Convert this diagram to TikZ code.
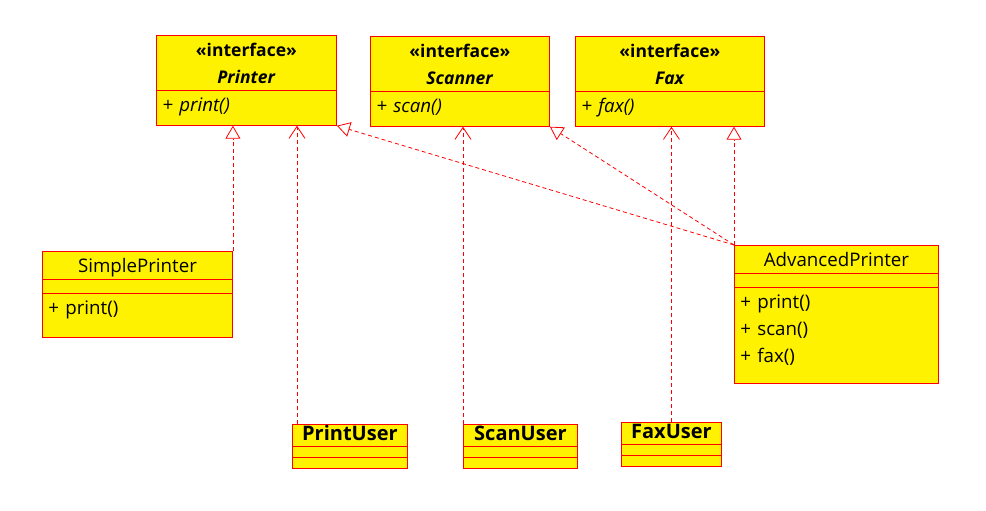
\documentclass[tikz,border=0pt]{standalone}
\usepackage{fontspec}
\setmainfont{Open Sans}
\usetikzlibrary{shapes.multipart, arrows.meta}

\newcommand{\rowstrut}{\rule[-6pt]{0pt}{27pt}}
\newcommand{\opstrut}{\rule[-13pt]{0pt}{34pt}}
\newcommand{\gapstrut}{\rule{0pt}{13pt}}
\newcommand{\userstrut}{\rule[-5pt]{0pt}{21pt}}
\newcommand{\usergap}{\rule{0pt}{10pt}}
\newcommand{\headfont}{\fontsize{17.5}{27}\selectfont}

\begin{document}
\begin{tikzpicture}[x=1pt, y=-1pt,
	every node/.style={font=\fontsize{18.7}{27}\selectfont},
	clas/.style={rectangle split, rectangle split parts=3, draw=red, fill=yellow, line width=0.9pt, inner xsep=6pt, inner ysep=0pt, anchor=north west},
	iface/.style={clas, rectangle split parts=2},
	user/.style={clas, font=\fontsize{20}{21}\selectfont\bfseries},
	realize/.style={red, line width=0.8pt, dash pattern=on 4pt off 3pt, -{Triangle[open, length=13pt, width=15pt, fill=white]}},
	uses/.style={red, line width=0.8pt, dash pattern=on 4pt off 3pt, -{Straight Barb[length=12pt, width=16pt]}}
	]
\useasboundingbox (0,0) rectangle (986,511);

% interfaces
\node[iface, text width=168pt] (printer) at (156,35) {\centering\headfont\textbf{«interface»}\rowstrut\\\textbf{\textit{Printer}}\rowstrut\par \nodepart{two}\raggedright\textit{+ print()}\opstrut};
\node[iface, text width=167pt] (scanner) at (370,36) {\centering\headfont\textbf{«interface»}\rowstrut\\\textbf{\textit{Scanner}}\rowstrut\par \nodepart{two}\raggedright\textit{+ scan()}\opstrut};
\node[iface, text width=177pt] (fax) at (575,36) {\centering\headfont\textbf{«interface»}\rowstrut\\\textbf{\textit{Fax}}\rowstrut\par \nodepart{two}\raggedright\textit{+ fax()}\opstrut};

% implementations
\node[clas, text width=178pt] (simplePrinter) at (42,251) {\centering SimplePrinter\rowstrut\par \nodepart{two}\gapstrut \nodepart{three}\raggedright+ print()\rule[-22pt]{0pt}{43pt}};
\node[clas, text width=192pt] (advancedPrinter) at (734,245) {\centering AdvancedPrinter\rowstrut\par \nodepart{two}\gapstrut \nodepart{three}\raggedright+ print()\rowstrut\\+ scan()\rowstrut\\+ fax()\rule[-20pt]{0pt}{41pt}};

% users
\node[user, text width=103pt] (printUser) at (292,424) {\centering PrintUser\userstrut\par \nodepart{two}\usergap \nodepart{three}\usergap};
\node[user, text width=102pt] (scanUser) at (463,424) {\centering ScanUser\userstrut\par \nodepart{two}\usergap \nodepart{three}\usergap};
\node[user, text width=88pt] (faxUser) at (621,422) {\centering FaxUser\userstrut\par \nodepart{two}\usergap \nodepart{three}\usergap};

\coordinate (pu) at ([xshift=5pt]printUser.north west);

\path[realize]
(simplePrinter.north east) edge (simplePrinter.north east |- printer.south)
(advancedPrinter.north west) edge (printer.south east)
(advancedPrinter.north west) edge (scanner.south east)
(advancedPrinter.north west) edge (advancedPrinter.north west |- fax.south);

\path[uses]
(pu) edge (pu |- printer.south)
(scanUser.north west) edge (scanUser.north west |- scanner.south)
(faxUser.north) edge (faxUser.north |- fax.south);

\end{tikzpicture}
\end{document}
